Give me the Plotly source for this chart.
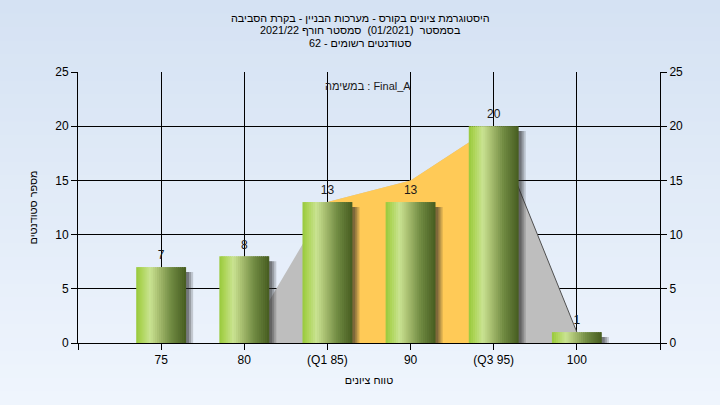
import plotly.graph_objects as go

# ---------------- data ----------------
categories = ["75", "80", "(Q1 85)", "90", "(Q3 95)", "100"]
counts = [7, 8, 13, 13, 20, 1]
curve = [0, 0, 13, 15, 20, 1]
q1_index = 2
q3_index = 4
y_ticks = [0, 5, 10, 15, 20, 25]

title_line1 = "היסטוגרמת ציונים בקורס - מערכות הבניין - בקרת הסביבה"
title_line2 = "בסמסטר  (01/2021)  סמסטר חורף 2021/22"
title_line3 = "סטודנטים רשומים - 62"
task_label = "במשימה : Final_A"
x_title = "טווח ציונים"
y_title = "מספר סטודנטים"

xs = list(range(1, len(categories) + 1))

W, H = 720, 405
ML, MR, MT, MB = 78, 60, 72, 62
PW, PH = W - ML - MR, H - MT - MB

def py(p):
    return (H - MB - p) / PH

def px(p):
    return (p - ML) / PW

fig = go.Figure()

# background vertical gradient
top = (213, 226, 243)
bot = (239, 245, 253)
nb = 30
for i in range(nb):
    t = i / (nb - 1)
    c = tuple(int(round(top[k] + (bot[k] - top[k]) * t)) for k in range(3))
    y0p = H * i / nb
    y1p = H * (i + 1) / nb + 1
    fig.add_shape(type="rect", xref="paper", yref="paper",
                  x0=px(-5), x1=px(W + 5), y0=py(y1p), y1=py(y0p),
                  fillcolor="rgb(%d,%d,%d)" % c, line_width=0, layer="below")

# ---- base subplot: areas (under bars) ----
fig.add_trace(go.Scatter(x=xs, y=curve, mode="lines", fill="tozeroy",
                         fillcolor="#BEBEBE", line=dict(width=0, color="#BEBEBE"),
                         hoverinfo="skip", showlegend=False))
fig.add_trace(go.Scatter(x=xs[q1_index:q3_index + 1], y=curve[q1_index:q3_index + 1],
                         mode="lines", fill="tozeroy", fillcolor="#FFCA57",
                         line=dict(width=0, color="#FFCA57"),
                         hoverinfo="skip", showlegend=False))
fig.add_trace(go.Scatter(x=xs[q3_index:], y=curve[q3_index:], mode="lines",
                         line=dict(width=1, color="#505050"),
                         hoverinfo="skip", showlegend=False))

# ---- overlay subplot: bars ----
bar_w = 0.6
for off, a in [(0.085, 0.2), (0.06, 0.26), (0.035, 0.32)]:
    fig.add_trace(go.Bar(x=xs, y=counts, base=-0.45, width=bar_w,
                         offset=-bar_w / 2 + off, yaxis="y2",
                         marker=dict(color="rgba(40,40,40,%.2f)" % a, line_width=0),
                         hoverinfo="skip", showlegend=False))

stops = [(0.0, (152, 201, 60)), (0.1, (172, 212, 86)), (0.28, (201, 227, 146)),
         (0.45, (168, 190, 112)), (0.7, (112, 138, 66)), (1.0, (70, 92, 32))]

def col_at(t):
    for i in range(len(stops) - 1):
        a, ca = stops[i]
        b, cb = stops[i + 1]
        if a <= t <= b:
            f = (t - a) / (b - a)
            return "rgb(%d,%d,%d)" % tuple(int(round(ca[k] + (cb[k] - ca[k]) * f)) for k in range(3))
    return "rgb(%d,%d,%d)" % stops[-1][1]

ns = 24
sw = bar_w / ns
for i in range(ns):
    t = (i + 0.5) / ns
    w = sw * 1.6 if i < ns - 1 else sw
    fig.add_trace(go.Bar(x=xs, y=counts, width=w, offset=-bar_w / 2 + i * sw, yaxis="y2",
                         marker=dict(color=col_at(t), line_width=0),
                         hoverinfo="skip", showlegend=False))

fig.add_trace(go.Scatter(x=xs, y=counts, mode="markers+text", text=[str(v) for v in counts],
                         textposition="top center", yaxis="y2",
                         marker=dict(size=6, opacity=0),
                         textfont=dict(size=12, color="#1a1a1a", family="Liberation Sans, Arial"),
                         hoverinfo="skip", showlegend=False, cliponaxis=False))

font = dict(family="Liberation Sans, Arial, sans-serif", size=12, color="#000000")
hfont = dict(family="Liberation Sans, Arial, sans-serif", size=10.8, color="#000000")

fig.update_layout(
    width=W, height=H,
    margin=dict(l=ML, r=MR, t=MT, b=MB, pad=0),
    paper_bgcolor="#E3ECF8",
    plot_bgcolor="#B3B3B3",
    barmode="overlay",
    font=font,
    showlegend=False,
    xaxis=dict(range=[0, len(categories) + 1],
               tickmode="array",
               tickvals=[0] + xs + [len(categories) + 1],
               ticktext=[""] + categories + [""],
               ticks="outside", ticklen=6, tickcolor="#000", tickwidth=1,
               showgrid=True, gridcolor="#000", gridwidth=1,
               showline=True, linecolor="#000", linewidth=1,
               zeroline=False, tickfont=font,
               title=dict(text=x_title, font=hfont, standoff=10),
               fixedrange=True),
    yaxis=dict(range=[0, 25], tickmode="array", tickvals=y_ticks,
               ticks="outside", ticklen=6, tickcolor="#000",
               showgrid=True, gridcolor="#000", gridwidth=1,
               showline=True, linecolor="#000", linewidth=1,
               zeroline=False, tickfont=font,
               title=dict(text=y_title, font=hfont, standoff=15),
               fixedrange=True),
    yaxis2=dict(range=[0, 25], tickmode="array", tickvals=y_ticks,
                overlaying="y", side="right",
                ticks="outside", ticklen=6, tickcolor="#000",
                showgrid=False, showline=True, linecolor="#000", linewidth=1,
                zeroline=False, tickfont=font, fixedrange=True),
)

for txt, p in [(title_line1, 18), (title_line2, 30.5), (title_line3, 43)]:
    fig.add_annotation(text=txt, xref="paper", yref="paper",
                       x=px(360), y=py(p), xanchor="center", yanchor="middle",
                       showarrow=False, font=hfont)

fig.add_annotation(text=task_label, xref="paper", yref="paper",
                   x=px(368), y=py(86), xanchor="center", yanchor="middle",
                   showarrow=False, font=dict(family=font["family"], size=11, color="#1a1a1a"))

fig.write_html("out.html", config={"displayModeBar": False},
               post_script="document.body.style.margin='0px';")
